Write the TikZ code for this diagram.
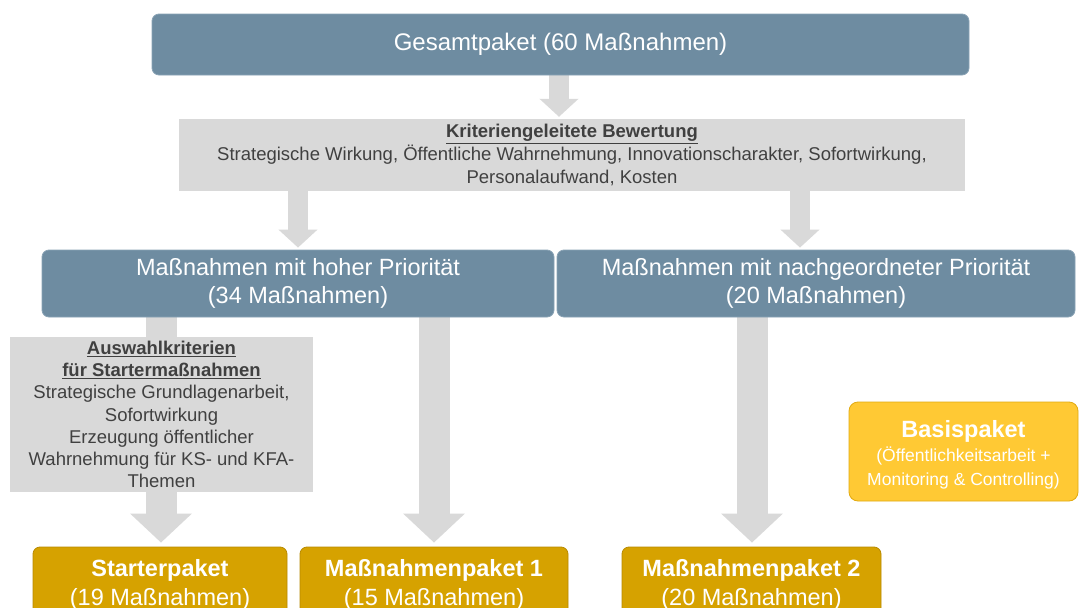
\documentclass[tikz,border=0pt]{standalone}
\usepackage{fontspec}
\setmainfont{Liberation Sans}
\usetikzlibrary{arrows.meta,calc}
\pgfdeclarelayer{background}
\pgfsetlayers{background,main}
\definecolor{blueBox}{HTML}{6E8CA1}
\definecolor{blueEdge}{HTML}{8AA3B5}
\definecolor{goldBox}{HTML}{D6A200}
\definecolor{goldEdge}{HTML}{B88A00}
\definecolor{yelBox}{HTML}{FFC934}
\definecolor{yelEdge}{HTML}{E2AA10}
\definecolor{greyBox}{HTML}{D9D9D9}
\definecolor{greyArrow}{HTML}{D9D9D9}
\definecolor{greyText}{HTML}{404040}
\tikzset{
  bluebox/.style={rounded corners=7pt, fill=blueBox, draw=blueEdge, line width=0.8pt, text=white, align=center, inner sep=0pt},
  goldbox/.style={rounded corners=7pt, fill=goldBox, draw=goldEdge, line width=0.8pt, text=white, align=center, inner sep=0pt},
  yelbox/.style={rounded corners=9pt, fill=yelBox, draw=yelEdge, line width=0.8pt, text=white, align=center, inner sep=0pt},
  greybox/.style={fill=greyBox, text=greyText, align=center, inner sep=0pt},
  thinarrow/.style={draw=greyArrow, line width=20pt, -{Triangle[width=38pt,length=18pt]}, shorten >=2pt},
  fatarrow/.style={draw=greyArrow, line width=31pt, -{Triangle[width=60pt,length=29pt]}, shorten >=4pt},
}
\begin{document}
\begin{tikzpicture}[x=1pt,y=-1pt]
\clip (0,0) rectangle (1080,608);

\node[bluebox, minimum width=817pt, minimum height=61pt, font=\fontsize{24}{28}\selectfont] (top) at (560.5,44.5) {Gesamtpaket (60 Maßnahmen)};

\node[greybox, minimum width=786pt, minimum height=72pt, font=\fontsize{18.5}{23}\selectfont] (krit) at (572,155)
  {\textbf{\underline{Kriteriengeleitete Bewertung}}\\
   Strategische Wirkung, Öffentliche Wahrnehmung, Innovationscharakter, Sofortwirkung,\\
   Personalaufwand, Kosten};

\node[bluebox, minimum width=512pt, minimum height=67pt, font=\fontsize{23.5}{28}\selectfont] (hi) at (298,283.5)
  {Maßnahmen mit hoher Priorität\\(34 Maßnahmen)};
\node[bluebox, minimum width=518pt, minimum height=67pt, font=\fontsize{23.5}{28}\selectfont] (lo) at (816,283.5)
  {Maßnahmen mit nachgeordneter Priorität\\(20 Maßnahmen)};

\node[greybox, minimum width=303pt, minimum height=155pt, font=\fontsize{18.5}{22.2}\selectfont] (ausw) at (161.5,414.5)
  {\textbf{\underline{Auswahlkriterien}}\\
   \textbf{\underline{für Startermaßnahmen}}\\
   Strategische Grundlagenarbeit,\\
   Sofortwirkung\\
   Erzeugung öffentlicher\\
   Wahrnehmung für KS- und KFA-\\
   Themen};

\node[goldbox, minimum width=254pt, minimum height=76pt, font=\fontsize{23.5}{29}\selectfont] (start) at (160,585)
  {\textbf{Starterpaket}\\(19 Maßnahmen)};
\node[goldbox, minimum width=268pt, minimum height=76pt, font=\fontsize{23.5}{29}\selectfont] (pak1) at (434,585)
  {\textbf{Maßnahmenpaket 1}\\(15 Maßnahmen)};
\node[goldbox, minimum width=259pt, minimum height=76pt, font=\fontsize{23.5}{29}\selectfont] (pak2) at (751.5,585)
  {\textbf{Maßnahmenpaket 2}\\(20 Maßnahmen)};

\node[yelbox, minimum width=229pt, minimum height=99pt, font=\fontsize{17.5}{23.5}\selectfont] (basis) at (963.5,451.5)
  {\rule{0pt}{23pt}{\fontsize{23.5}{26}\selectfont\textbf{Basispaket}}\\[1pt]
   (Öffentlichkeitsarbeit +\\
   Monitoring \& Controlling)};

\coordinate (x1) at (298,0);
\coordinate (x2) at (800,0);
\coordinate (x3) at (161,0);
\coordinate (x4) at (434,0);
\coordinate (x5) at (752,0);

\begin{pgfonlayer}{background}
\fill[white] (0,0) rectangle (1080,608);
\draw[thinarrow] (top.south -| krit.north) ++(-13,0) coordinate (a0s) -- (a0s |- krit.north);
\draw[thinarrow] (krit.south -| x1) -- (hi.north -| x1);
\draw[thinarrow] (krit.south -| x2) -- (lo.north -| x2);
\draw[fatarrow] (hi.south -| x3) -- (start.north -| x3);
\draw[fatarrow] (hi.south -| x4) -- (pak1.north -| x4);
\draw[fatarrow] (lo.south -| x5) -- (pak2.north -| x5);
\end{pgfonlayer}
\end{tikzpicture}
\end{document}
